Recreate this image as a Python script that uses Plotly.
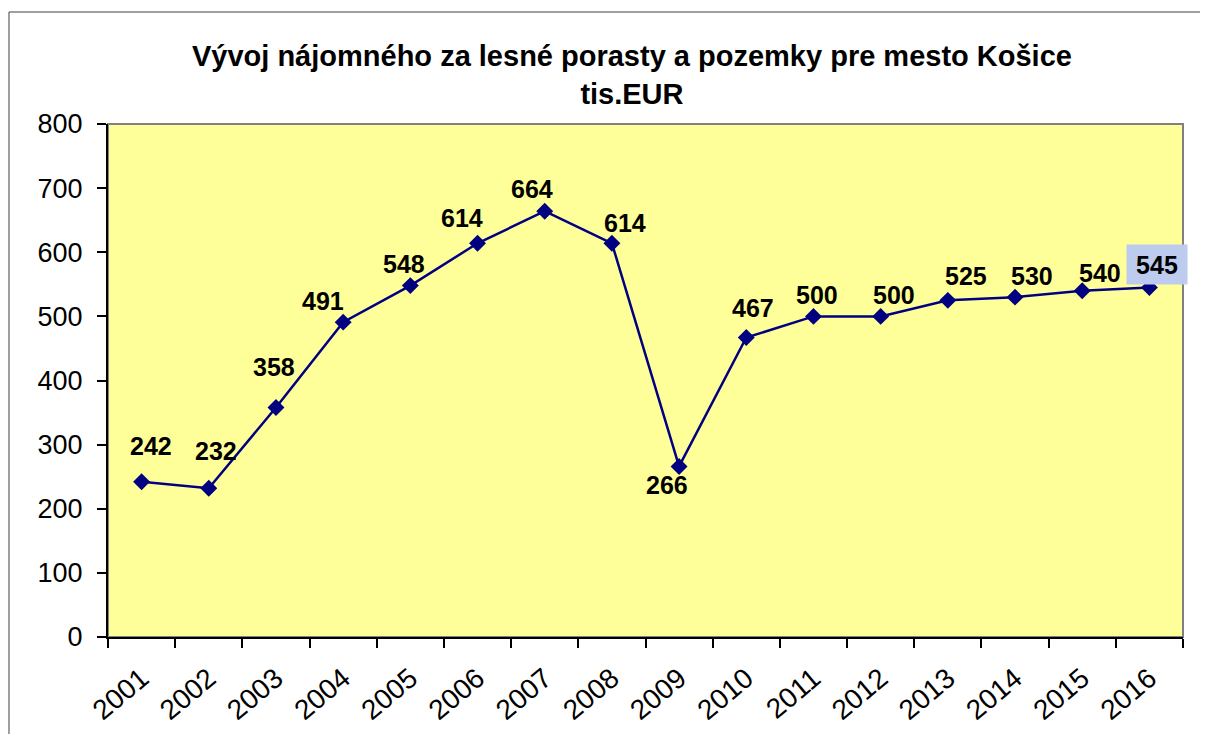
import plotly.graph_objects as go

years = ["2001", "2002", "2003", "2004", "2005", "2006", "2007", "2008",
         "2009", "2010", "2011", "2012", "2013", "2014", "2015", "2016"]
values = [242, 232, 358, 491, 548, 614, 664, 614, 266, 467, 500, 500, 525, 530, 540, 545]

# label offsets in pixels (dx, dy; negative dy = above the point)
label_offsets = [(9, -36), (7, -37), (-2, -40), (-20, -21), (-6, -22), (-16, -25),
                 (-13, -22), (13, -20), (-12, 19), (7, -30), (4, -21), (13, -21),
                 (18, -24), (17, -21), (18, -18), (8, -23)]

FONT = "Liberation Sans, Arial, sans-serif"
NAVY = "#000080"

fig = go.Figure()
fig.add_trace(go.Scatter(
    x=years, y=values, mode="lines+markers",
    line=dict(color=NAVY, width=2.5),
    marker=dict(symbol="diamond", size=13, color=NAVY),
    hoverinfo="x+y", showlegend=False,
))

annotations = []
for i, (yr, v) in enumerate(zip(years, values)):
    dx, dy = label_offsets[i]
    a = dict(x=i, y=v, xref="x", yref="y", text=str(v), showarrow=False,
             xshift=dx, yshift=-dy, xanchor="center", yanchor="middle",
             font=dict(family=FONT, size=25, color="black", weight="bold"))
    if i == len(years) - 1:
        a.update(bgcolor="#bccbee", borderpad=4, width=52, height=31)
    annotations.append(a)

shapes = [
    # plot area frame (gray top/right)
    dict(type="rect", xref="paper", yref="paper", x0=0, y0=0, x1=1, y1=1,
         line=dict(color="#808080", width=2), layer="below"),
    # outer chart border (left and top edges; the rest lies outside the view)
    dict(type="line", xref="paper", yref="paper", x0=-0.0921, y0=-0.3, x1=-0.0921,
         y1=1.2183, line=dict(color="#404040", width=1), layer="below"),
    dict(type="line", xref="paper", yref="paper", x0=-0.0921, y0=1.2183, x1=1.1,
         y1=1.2183, line=dict(color="#404040", width=1), layer="below"),
]

fig.update_layout(
    width=1192, height=726,
    margin=dict(l=100, r=17, t=116, b=97),
    paper_bgcolor="white", plot_bgcolor="#FFFF99",
    font=dict(family=FONT, color="black"),
    title=dict(text="Vývoj nájomného za lesné porasty a pozemky pre mesto Košice<br>tis.EUR",
               x=0.4874, xref="paper", xanchor="center",
               y=1 - 58 / 726, yref="container", yanchor="top",
               font=dict(family=FONT, size=29, color="black", weight="bold")),
    annotations=annotations, shapes=shapes,
    xaxis=dict(type="category", tickson="boundaries", ticks="outside", ticklen=9,
               tickcolor="black", tickwidth=1.5, showline=True, linecolor="black",
               linewidth=2, showgrid=False, zeroline=False, tickangle=-40,
               tickfont=dict(family=FONT, size=28, color="black"),
               ticklabelstandoff=12, range=[-0.5, 15.5], automargin=False),
    yaxis=dict(range=[0, 800], dtick=100, ticks="outside", ticklen=9,
               tickcolor="black", tickwidth=1.5, showline=True, linecolor="black",
               linewidth=2, showgrid=False, zeroline=False,
               tickfont=dict(family=FONT, size=27, color="black"),
               ticklabelstandoff=9, automargin=False),
)

fig.write_html("out.html")
